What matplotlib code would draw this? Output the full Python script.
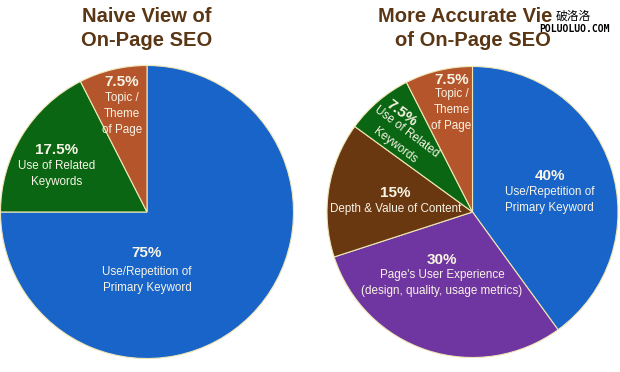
import matplotlib
matplotlib.use("Agg")
import matplotlib.pyplot as plt

plt.rcParams['font.family'] = ['Liberation Sans', 'Noto Sans CJK SC', 'DejaVu Sans']

# data
naive_pcts = [75, 17.5, 7.5]
naive_labels = ['Use/Repetition of\nPrimary Keyword', 'Use of Related\nKeywords', 'Topic /\nTheme\nof Page']
naive_colors = ['#1864c8', '#0a6612', '#b5552b']

acc_pcts = [40, 30, 15, 7.5, 7.5]
acc_labels = ['Use/Repetition of\nPrimary Keyword',
              "Page's User Experience\n(design, quality, usage metrics)",
              'Depth & Value of Content',
              'Use of Related\nKeywords',
              'Topic /\nTheme\nof Page']
acc_colors = ['#1864c8', '#6f35a0', '#6a3810', '#0a6612', '#b5552b']

title_color = '#5a3614'
txt_color = '#f8f4e6'
edge = dict(edgecolor='#efe6b4', linewidth=0.8)

fig = plt.figure(figsize=(6.2, 3.72), dpi=100)
W, H = 620, 372


def pie_axes(cx, cy, r, pcts, colors):
    ax = fig.add_axes([(cx - r) / W, (H - cy - r) / H, 2 * r / W, 2 * r / H])
    ax.pie(pcts, colors=colors, startangle=90, counterclock=False,
           radius=1, wedgeprops=edge)
    # pie() sets its own limits, so fix them afterwards
    ax.set_xlim(-1, 1)
    ax.set_ylim(-1, 1)
    ax.set_aspect('equal')
    ax.axis('off')
    return ax


def fmt(p):
    return ('%g' % p) + '%'


# left pie
ax1 = pie_axes(147, 212, 146.5, naive_pcts, naive_colors)
# (x, y of pct, y of description)
naive_pos = [(0, -0.28, -0.465), (-0.62, 0.42, 0.26), (-0.17, 0.89, 0.67)]
for p, lab, (x, yp, yd) in zip(naive_pcts, naive_labels, naive_pos):
    ax1.text(x, yp, fmt(p), ha='center', va='center', fontsize=11,
             fontweight='bold', color=txt_color)
    ax1.text(x, yd, lab, ha='center', va='center', fontsize=8.4,
             color=txt_color, linespacing=1.45)

# right pie
ax2 = pie_axes(472.5, 212, 145.5, acc_pcts, acc_colors)
acc_pos = [(0.53, 0.25, 0.085), (-0.21, -0.33, -0.49), (-0.53, 0.13, 0.02),
           None, (-0.145, 0.905, 0.70)]
for p, lab, pos in zip(acc_pcts, acc_labels, acc_pos):
    if pos is None:
        continue
    x, yp, yd = pos
    ax2.text(x, yp, fmt(p), ha='center', va='center', fontsize=11,
             fontweight='bold', color=txt_color)
    ax2.text(x, yd, lab, ha='center', va='center', fontsize=8.4,
             color=txt_color, linespacing=1.45)

# rotated label for the thin green slice
rot = -37
ax2.text(-0.485, 0.68, fmt(acc_pcts[3]), ha='center', va='center', fontsize=11,
         fontweight='bold', color=txt_color, rotation=rot)
for (x, y), line in zip([(-0.45, 0.55), (-0.533, 0.454)], acc_labels[3].split('\n')):
    ax2.text(x, y, line, ha='center', va='center', fontsize=8.4,
             color=txt_color, rotation=rot)

# titles
fig.text(147 / W, 1 - 16 / H, 'Naive View of', ha='center', va='center',
         fontsize=14.5, fontweight='bold', color=title_color)
fig.text(147 / W, 1 - 40 / H, 'On-Page SEO', ha='center', va='center',
         fontsize=14.5, fontweight='bold', color=title_color)
# the watermark hides the end of this title in the reference
fig.text(378 / W, 1 - 16 / H, 'More Accurate Vie', ha='left', va='center',
         fontsize=14.5, fontweight='bold', color=title_color)
fig.text(472.5 / W, 1 - 40 / H, 'of On-Page SEO', ha='center', va='center',
         fontsize=14.5, fontweight='bold', color=title_color)

# watermark
fig.text(556 / W, 1 - 16 / H, '破洛洛', ha='left', va='center', fontsize=8.5,
         color='black', family=['Noto Sans CJK SC', 'DejaVu Sans'])
fig.text(574.5 / W, 1 - 29.5 / H, 'POLUOLUO.COM', ha='center', va='center',
         fontsize=7, fontweight='bold', color='black', family='DejaVu Sans Mono')

fig.savefig('out.png', dpi=100, facecolor='white')
